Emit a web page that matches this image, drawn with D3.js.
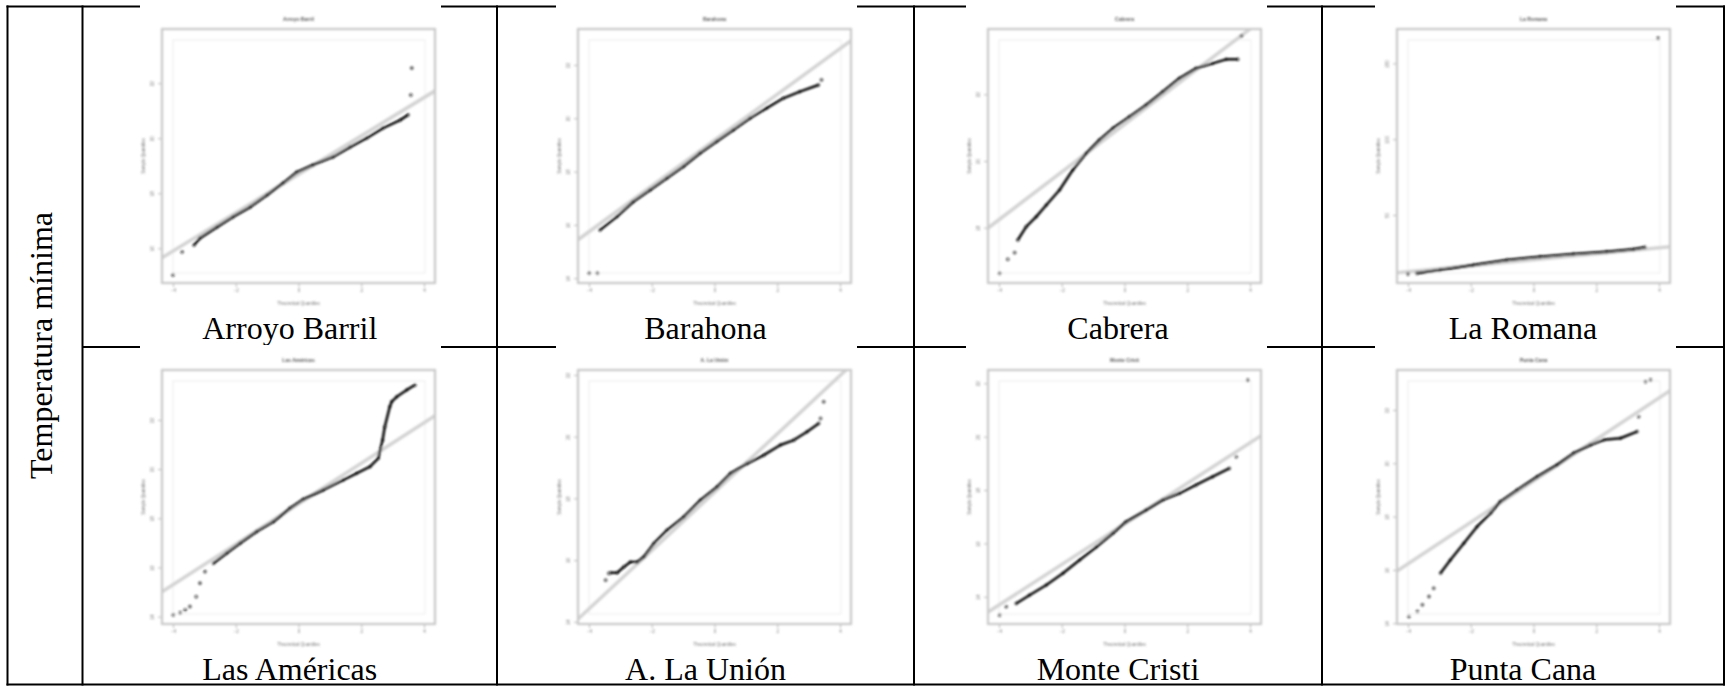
<!DOCTYPE html>
<html>
<head>
<meta charset="utf-8">
<script src="https://cdn.jsdelivr.net/npm/d3@7"></script>
<style>
  body { margin: 0; background: #fff; }
  svg { display: block; }
  .serif { font-family: "Liberation Serif", "Times New Roman", Times, serif; }
  .tiny { font-family: "Liberation Sans", Arial, sans-serif; }
</style>
</head>
<body>
<svg id="chart" width="1726" height="686"></svg>
<script>
// Normal Q-Q plots of daily minimum temperature, one panel per station.

const stations = ["Arroyo Barril", "Barahona", "Cabrera", "La Romana",
                  "Las Américas", "A. La Unión", "Monte Cristi", "Punta Cana"];
const rowLabel = "Temperatura mínima";
const xTitle = "Theoretical Quantiles";
const yTitle = "Sample Quantiles";

// Theoretical-quantile axis (shared by every panel)
const xTicks = [-4, -2, 0, 2, 4];
const xDomain = [-4.35, 4.35];

// Sample-quantile axes, one per station
const yTicks = [
  [16, 18, 20, 22], [14, 16, 18, 20, 22], [18, 20, 22], [50, 100, 150],
  [14, 16, 18, 20, 22], [14, 16, 18, 20, 22], [14, 16, 18, 20, 22], [14, 16, 18, 20, 22]
];
const yDomains = [
  [14.74, 23.97], [13.82, 23.35], [16.34, 23.96], [5.15, 172.7],
  [13.70, 24.03], [13.93, 22.16], [12.98, 22.50], [13.97, 23.50]
];

// Reference lines through the quartiles: [intercept, slope]
const qqLines = [
  [18.69, 0.697], [19.18, 0.859], [21.10, 0.715], [20.52, 1.969],
  [18.59, 0.824], [18.20, 0.945], [16.73, 0.760], [19.34, 0.778]
];

// [theoretical quantile, sample quantile] — main body of each sample
const arroyoBarrilCurve = [[-3.33,16.12],[-3.14,16.37],[-2.60,16.77],[-2.09,17.14],[-1.54,17.50],[-1.00,17.94],[-0.49,18.37],[-0.05,18.77],[0.46,19.03],[1.10,19.32],[1.64,19.68],[2.18,20.01],[2.69,20.37],[3.24,20.66],[3.49,20.85]];
const barahonaCurve = [[-3.65,15.81],[-3.11,16.31],[-2.59,16.87],[-2.05,17.31],[-1.52,17.75],[-0.99,18.19],[-0.46,18.69],[0.07,19.13],[0.60,19.56],[1.13,20.00],[1.66,20.38],[2.19,20.75],[2.72,21.00],[3.31,21.25]];
const cabreraCurve = [[-3.40,17.63],[-3.13,18.03],[-2.81,18.33],[-2.49,18.68],[-2.07,19.13],[-1.65,19.73],[-1.22,20.23],[-0.80,20.63],[-0.37,20.98],[0.16,21.33],[0.69,21.68],[1.22,22.08],[1.75,22.48],[2.28,22.78],[2.81,22.93],[3.24,23.05],[3.61,23.05]];
const laRomanaCurve = [[-3.72,11.54],[-2.98,13.72],[-1.92,17.02],[-0.85,20.32],[0.21,22.49],[1.27,24.27],[2.33,25.79],[3.18,27.37],[3.55,28.69]];
const lasAmericasCurve = [[-2.71,16.17],[-2.29,16.58],[-1.86,16.98],[-1.33,17.46],[-0.80,17.86],[-0.27,18.41],[0.15,18.77],[0.79,19.15],[1.43,19.56],[1.85,19.83],[2.28,20.10],[2.54,20.44],[2.68,21.18],[2.75,21.72],[2.91,22.54],[2.97,22.74],[3.13,22.94],[3.45,23.22],[3.71,23.42]];
const laUnionCurve = [[-3.31,15.59],[-3.10,15.59],[-2.89,15.78],[-2.68,15.94],[-2.46,15.94],[-2.25,16.11],[-1.93,16.54],[-1.51,16.97],[-0.98,17.40],[-0.45,17.94],[0.09,18.38],[0.51,18.81],[1.04,19.13],[1.57,19.40],[2.10,19.73],[2.53,19.89],[2.95,20.16],[3.32,20.43]];
const monteCristiCurve = [[-3.45,13.75],[-3.03,14.06],[-2.49,14.44],[-1.96,14.88],[-1.43,15.38],[-0.90,15.87],[-0.37,16.38],[0.05,16.81],[0.69,17.25],[1.22,17.63],[1.75,17.88],[2.28,18.19],[2.81,18.50],[3.34,18.81]];
const puntaCanaCurve = [[-2.96,15.88],[-2.65,16.37],[-2.22,17.00],[-1.80,17.62],[-1.37,18.13],[-1.06,18.56],[-0.52,19.00],[0.12,19.50],[0.75,19.94],[1.28,20.38],[1.82,20.69],[2.24,20.88],[2.77,20.94],[3.30,21.19]];

// Isolated observations in the tails
const arroyoBarrilTails = [[-4.00,15.03],[-3.71,15.87],[3.58,21.57],[3.61,22.55]];
const barahonaTails = [[-3.99,14.19],[-3.73,14.19],[3.41,21.44]];
const cabreraTails = [[-3.98,16.63],[-3.72,17.05],[-3.50,17.25],[3.73,23.75]];
const laRomanaTails = [[-4.00,11.08],[3.97,166.6]];
const lasAmericasTails = [[-3.99,14.07],[-3.77,14.16],[-3.61,14.27],[-3.46,14.41],[-3.26,14.81],[-3.14,15.36],[-2.98,15.83]];
const laUnionTails = [[-3.47,15.35],[-3.37,15.57],[3.38,20.59],[3.48,21.13]];
const monteCristiTails = [[-3.98,13.31],[-3.77,13.63],[3.56,19.25],[3.93,22.12]];
const puntaCanaTails = [[-3.97,14.25],[-3.70,14.44],[-3.54,14.69],[-3.33,15.00],[-3.18,15.31],[3.35,21.75],[3.57,23.06],[3.73,23.13]];

const curves = [arroyoBarrilCurve, barahonaCurve, cabreraCurve, laRomanaCurve,
                lasAmericasCurve, laUnionCurve, monteCristiCurve, puntaCanaCurve];
const tails = [arroyoBarrilTails, barahonaTails, cabreraTails, laRomanaTails,
               lasAmericasTails, laUnionTails, monteCristiTails, puntaCanaTails];

// ---- layout ----
const W = 1726, H = 686;
const tableLeft = 7.5, labelColRight = 82.5, tableRight = 1724;
const colEdges = [82.5, 497, 914, 1322, 1724];
const tableTop = 6.5, rowMid = 347, tableBottom = 684.5;
const frameLeft = [162, 578, 988, 1397];
const frameTop = [29, 370];
const frameW = 273, frameH = 254;
const captionBaseline = [339, 680];

const svg = d3.select("#chart");
svg.append("rect").attr("width", W).attr("height", H).attr("fill", "#fff");

const defs = svg.append("defs");
defs.append("filter")
  .attr("id", "soft")
  .attr("x", "-10%").attr("y", "-10%").attr("width", "120%").attr("height", "120%")
  .append("feGaussianBlur").attr("stdDeviation", 0.8);

// ---- table rules ----
const rules = svg.append("g").attr("stroke", "#000").attr("stroke-width", 2).attr("fill", "none");
rules.append("line").attr("x1", tableLeft - 1).attr("x2", tableRight + 1).attr("y1", tableTop).attr("y2", tableTop);
rules.append("line").attr("x1", tableLeft - 1).attr("x2", tableRight + 1).attr("y1", tableBottom).attr("y2", tableBottom);
rules.append("line").attr("x1", labelColRight).attr("x2", tableRight).attr("y1", rowMid).attr("y2", rowMid);
[tableLeft, ...colEdges].forEach(x => {
  rules.append("line").attr("x1", x).attr("x2", x).attr("y1", tableTop - 1).attr("y2", tableBottom + 1);
});

// Row header
svg.append("text")
  .attr("class", "serif")
  .attr("transform", `translate(52,${(tableTop + tableBottom) / 2}) rotate(-90)`)
  .attr("text-anchor", "middle")
  .style("font-size", "32px")
  .attr("fill", "#000")
  .text(rowLabel);

// ---- panels ----
const line = d3.line();

stations.forEach((name, i) => {
  const col = i % 4, row = Math.floor(i / 4);
  const fx = frameLeft[col], fy = frameTop[row];

  const x = d3.scaleLinear().domain(xDomain).range([fx, fx + frameW]);
  const y = d3.scaleLinear().domain(yDomains[i]).range([fy + frameH, fy]);

  // white plot background (sits over the table rules)
  svg.append("rect")
    .attr("x", fx - 22).attr("y", fy - 25)
    .attr("width", frameW + 28).attr("height", frameH + 54)
    .attr("fill", "#fff");

  const clipId = "clip" + i;
  defs.append("clipPath").attr("id", clipId)
    .append("rect").attr("x", fx).attr("y", fy).attr("width", frameW).attr("height", frameH);

  const g = svg.append("g").attr("filter", "url(#soft)");

  // faint inner guides
  g.append("rect")
    .attr("x", fx + 11).attr("y", fy + 11)
    .attr("width", frameW - 21).attr("height", frameH - 21)
    .attr("fill", "none").attr("stroke", "#ededed").attr("stroke-width", 1);

  // reference line
  const [a, b] = qqLines[i];
  g.append("line")
    .attr("clip-path", `url(#${clipId})`)
    .attr("x1", x(xDomain[0])).attr("y1", y(a + b * xDomain[0]))
    .attr("x2", x(xDomain[1])).attr("y2", y(a + b * xDomain[1]))
    .attr("stroke", "#d3d3d3").attr("stroke-width", 3.5);

  // sample quantiles
  const pts = g.append("g").attr("clip-path", `url(#${clipId})`);
  pts.append("path")
    .attr("d", line(curves[i].map(d => [x(d[0]), y(d[1])])))
    .attr("fill", "none").attr("stroke", "#000").attr("stroke-width", 2.5)
    .attr("stroke-linejoin", "round");
  pts.selectAll("circle")
    .data(curves[i].concat(tails[i]))
    .join("circle")
    .attr("cx", d => x(d[0])).attr("cy", d => y(d[1]))
    .attr("r", 1.3)
    .attr("fill", "none").attr("stroke", "#111").attr("stroke-width", 1);

  // frame
  g.append("rect")
    .attr("x", fx).attr("y", fy).attr("width", frameW).attr("height", frameH)
    .attr("fill", "none").attr("stroke", "#c8c8c8").attr("stroke-width", 2.2);

  // axes
  const xa = g.append("g").attr("transform", `translate(0,${fy + frameH + 1})`)
    .call(d3.axisBottom(x).tickValues(xTicks).tickSize(3).tickPadding(2));
  const ya = g.append("g").attr("transform", `translate(${fx - 1},0)`)
    .call(d3.axisLeft(y).tickValues(yTicks[i]).tickSize(3).tickPadding(2));
  [xa, ya].forEach(ax => {
    ax.attr("font-family", null).attr("font-size", null);
    ax.select(".domain").remove();
    ax.selectAll(".tick line").attr("stroke", "#b5b5b5");
    ax.selectAll(".tick text")
      .attr("class", "tiny")
      .style("font-size", "4.5px").attr("fill", "#777");
  });
  ya.selectAll(".tick text")
    .attr("x", null).attr("dy", null)
    .attr("text-anchor", "middle")
    .attr("transform", "translate(-7,0) rotate(-90)");

  // panel title and axis titles
  g.append("text")
    .attr("class", "tiny")
    .attr("x", fx + frameW / 2).attr("y", fy - 8)
    .attr("text-anchor", "middle")
    .style("font-size", "5px").attr("font-weight", "bold").attr("fill", "#555")
    .text(name);
  g.append("text")
    .attr("class", "tiny")
    .attr("x", fx + frameW / 2).attr("y", fy + frameH + 22)
    .attr("text-anchor", "middle")
    .style("font-size", "4.5px").attr("fill", "#777")
    .text(xTitle);
  g.append("text")
    .attr("class", "tiny")
    .attr("transform", `translate(${fx - 17},${fy + frameH / 2}) rotate(-90)`)
    .attr("text-anchor", "middle")
    .style("font-size", "4.5px").attr("fill", "#777")
    .text(yTitle);

  // station caption
  svg.append("text")
    .attr("class", "serif")
    .attr("x", (colEdges[col] + colEdges[col + 1]) / 2)
    .attr("y", captionBaseline[row])
    .attr("text-anchor", "middle")
    .style("font-size", "32px")
    .attr("fill", "#000")
    .text(name);
});
</script>
</body>
</html>
